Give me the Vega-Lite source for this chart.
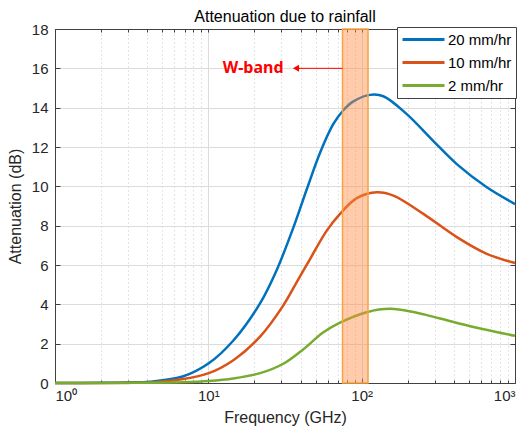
{
  "$schema": "https://vega.github.io/schema/vega-lite/v6.json",
  "width": 460,
  "height": 354,
  "autosize": {"type": "none"},
  "padding": {"left": 55, "top": 29, "right": 13, "bottom": 60},
  "title": {"text": "Attenuation due to rainfall", "fontSize": 16, "fontWeight": "normal", "font": "Liberation Sans", "color": "#000000", "offset": -3},
  "datasets": {
    "curves": [
      {"f": 1, "att": 0.002, "rate": "20 mm/hr"},
      {"f": 2, "att": 0.01, "rate": "20 mm/hr"},
      {"f": 3, "att": 0.03, "rate": "20 mm/hr"},
      {"f": 4.17, "att": 0.07, "rate": "20 mm/hr"},
      {"f": 6.87, "att": 0.34, "rate": "20 mm/hr"},
      {"f": 10.06, "att": 1.0, "rate": "20 mm/hr"},
      {"f": 14.56, "att": 2.16, "rate": "20 mm/hr"},
      {"f": 21.74, "att": 4.05, "rate": "20 mm/hr"},
      {"f": 27.94, "att": 5.75, "rate": "20 mm/hr"},
      {"f": 35.85, "att": 7.9, "rate": "20 mm/hr"},
      {"f": 43.85, "att": 9.85, "rate": "20 mm/hr"},
      {"f": 53.54, "att": 11.71, "rate": "20 mm/hr"},
      {"f": 65.38, "att": 13.17, "rate": "20 mm/hr"},
      {"f": 75.96, "att": 13.87, "rate": "20 mm/hr"},
      {"f": 88.3, "att": 14.32, "rate": "20 mm/hr"},
      {"f": 113.4, "att": 14.65, "rate": "20 mm/hr"},
      {"f": 138.5, "att": 14.58, "rate": "20 mm/hr"},
      {"f": 196.9, "att": 13.67, "rate": "20 mm/hr"},
      {"f": 293.6, "att": 12.3, "rate": "20 mm/hr"},
      {"f": 417.3, "att": 11.13, "rate": "20 mm/hr"},
      {"f": 654.6, "att": 9.95, "rate": "20 mm/hr"},
      {"f": 1000, "att": 9.1, "rate": "20 mm/hr"},
      {"f": 1, "att": 0.001, "rate": "10 mm/hr"},
      {"f": 2, "att": 0.005, "rate": "10 mm/hr"},
      {"f": 3, "att": 0.012, "rate": "10 mm/hr"},
      {"f": 4.17, "att": 0.03, "rate": "10 mm/hr"},
      {"f": 6.87, "att": 0.2, "rate": "10 mm/hr"},
      {"f": 10.06, "att": 0.5, "rate": "10 mm/hr"},
      {"f": 14.56, "att": 1.16, "rate": "10 mm/hr"},
      {"f": 21.74, "att": 2.36, "rate": "10 mm/hr"},
      {"f": 30.85, "att": 3.95, "rate": "10 mm/hr"},
      {"f": 37.73, "att": 5.13, "rate": "10 mm/hr"},
      {"f": 46.06, "att": 6.3, "rate": "10 mm/hr"},
      {"f": 59.2, "att": 7.75, "rate": "10 mm/hr"},
      {"f": 72.28, "att": 8.6, "rate": "10 mm/hr"},
      {"f": 92.9, "att": 9.4, "rate": "10 mm/hr"},
      {"f": 125.5, "att": 9.7, "rate": "10 mm/hr"},
      {"f": 161, "att": 9.53, "rate": "10 mm/hr"},
      {"f": 252.6, "att": 8.6, "rate": "10 mm/hr"},
      {"f": 417.3, "att": 7.42, "rate": "10 mm/hr"},
      {"f": 654.6, "att": 6.57, "rate": "10 mm/hr"},
      {"f": 1000, "att": 6.1, "rate": "10 mm/hr"},
      {"f": 1, "att": 0.0, "rate": "2 mm/hr"},
      {"f": 3, "att": 0.005, "rate": "2 mm/hr"},
      {"f": 6.87, "att": 0.04, "rate": "2 mm/hr"},
      {"f": 10.06, "att": 0.1, "rate": "2 mm/hr"},
      {"f": 14.56, "att": 0.23, "rate": "2 mm/hr"},
      {"f": 21.74, "att": 0.5, "rate": "2 mm/hr"},
      {"f": 30.85, "att": 0.98, "rate": "2 mm/hr"},
      {"f": 41.7, "att": 1.72, "rate": "2 mm/hr"},
      {"f": 56.26, "att": 2.58, "rate": "2 mm/hr"},
      {"f": 72.28, "att": 3.07, "rate": "2 mm/hr"},
      {"f": 108, "att": 3.6, "rate": "2 mm/hr"},
      {"f": 153.2, "att": 3.77, "rate": "2 mm/hr"},
      {"f": 217.5, "att": 3.61, "rate": "2 mm/hr"},
      {"f": 324.6, "att": 3.28, "rate": "2 mm/hr"},
      {"f": 535.4, "att": 2.85, "rate": "2 mm/hr"},
      {"f": 1000, "att": 2.4, "rate": "2 mm/hr"}
    ],
    "band": [{"f1": 75, "f2": 110}],
    "arrow": [{"from": 37.3, "to": 75, "y": 16}],
    "label": [{"text": "W-band", "f": 19.6, "y": 16}]
  },
  "layer": [
    {
      "data": {"name": "curves"},
      "mark": {"type": "line", "interpolate": "catmull-rom", "strokeWidth": 2.5},
      "encoding": {
        "x": {
          "field": "f", "type": "quantitative",
          "scale": {"type": "log", "domain": [1, 1000]},
          "axis": {
            "orient": "bottom", "values": [1, 10, 100, 1000],
            "labelExpr": "datum.value == 1 ? '10⁰' : datum.value == 10 ? '10¹' : datum.value == 100 ? '10²' : '10³'",
            "grid": true, "gridColor": "#dcdcdc", "tickSize": -5, "labelPadding": 10,
            "title": "Frequency (GHz)", "titlePadding": 6
          }
        },
        "y": {
          "field": "att", "type": "quantitative",
          "scale": {"domain": [0, 18]},
          "axis": {
            "orient": "left", "values": [0, 2, 4, 6, 8, 10, 12, 14, 16, 18],
            "grid": true, "gridColor": "#dcdcdc", "tickSize": -5, "labelPadding": 12,
            "title": "Attenuation (dB)", "titlePadding": 8
          }
        },
        "color": {
          "field": "rate", "type": "nominal",
          "scale": {"domain": ["20 mm/hr", "10 mm/hr", "2 mm/hr"], "range": ["#0072BD", "#D95319", "#77AC30"]},
          "legend": {
            "orient": "none", "legendX": 342, "legendY": -2, "title": null,
            "symbolType": "M-3,0H3", "symbolSize": 196, "symbolStrokeWidth": 3, "symbolOffset": 14,
            "labelFontSize": 15, "labelFont": "Liberation Sans", "labelColor": "#000000",
            "fillColor": "#ffffff", "strokeColor": "#404040", "padding": 4, "labelOffset": 16, "rowPadding": 6
          }
        }
      }
    },
    {
      "data": {"name": "band"},
      "mark": {"type": "rect", "fill": "#FF8C42", "fillOpacity": 0.45, "stroke": "#F7A440", "strokeWidth": 1.5},
      "encoding": {
        "x": {
          "field": "f1", "type": "quantitative",
          "axis": {
            "orient": "bottom",
            "values": [2, 3, 4, 5, 6, 7, 8, 9, 20, 30, 40, 50, 60, 70, 80, 90, 200, 300, 400, 500, 600, 700, 800, 900],
            "labels": false, "grid": true, "gridColor": "#c8c8c8", "gridDash": [1, 3], "tickSize": -3,
            "domain": false, "title": null
          }
        },
        "x2": {"field": "f2"}
      }
    },
    {
      "data": {"name": "arrow"},
      "mark": {"type": "rule", "color": "#FF0000", "strokeWidth": 1},
      "encoding": {
        "x": {
          "field": "from", "type": "quantitative",
          "axis": {
            "orient": "top",
            "values": [1, 2, 3, 4, 5, 6, 7, 8, 9, 10, 20, 30, 40, 50, 60, 70, 80, 90, 100, 200, 300, 400, 500, 600, 700, 800, 900, 1000],
            "labels": false, "grid": false, "tickSize": -3, "title": null
          }
        },
        "x2": {"field": "to"},
        "y": {
          "field": "y", "type": "quantitative",
          "axis": {
            "orient": "right", "values": [0, 2, 4, 6, 8, 10, 12, 14, 16, 18],
            "labels": false, "grid": false, "tickSize": -5, "title": null
          }
        }
      }
    },
    {
      "data": {"name": "arrow"},
      "mark": {"type": "point", "shape": "triangle-left", "filled": true, "color": "#FF0000", "size": 50, "opacity": 1},
      "encoding": {
        "x": {"field": "from", "type": "quantitative", "axis": null},
        "y": {"field": "y", "type": "quantitative", "axis": null}
      }
    },
    {
      "data": {"name": "label"},
      "mark": {"type": "text", "color": "#FF0000", "fontWeight": "bold", "fontSize": 16, "font": "Noto Sans"},
      "encoding": {
        "x": {"field": "f", "type": "quantitative", "axis": null},
        "y": {"field": "y", "type": "quantitative", "axis": null},
        "text": {"field": "text"}
      }
    }
  ],
  "resolve": {"axis": {"x": "independent", "y": "independent"}},
  "config": {
    "view": {"stroke": "#404040", "strokeWidth": 1},
    "axis": {
      "domainColor": "#404040", "tickColor": "#404040",
      "labelFont": "Liberation Sans", "labelFontSize": 15, "labelColor": "#262626",
      "titleFont": "Liberation Sans", "titleFontSize": 16, "titleFontWeight": "normal", "titleColor": "#262626"
    }
  }
}
